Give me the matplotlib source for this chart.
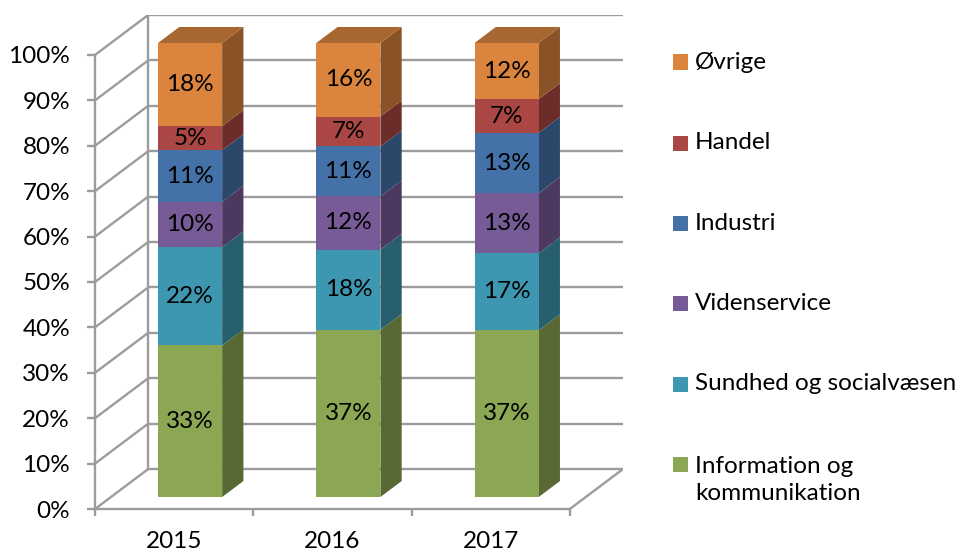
import numpy as np
import matplotlib.pyplot as plt
from matplotlib.patches import Polygon, Rectangle
from matplotlib.colors import to_rgb

plt.rcParams['font.family'] = ['Lato', 'DejaVu Sans']

# Data (100% stacked)
years = ['2015', '2016', '2017']
sektorer = ['Information og\nkommunikation', 'Sundhed og socialvæsen', 'Videnservice',
            'Industri', 'Handel', 'Øvrige']
info = [33.4, 36.8, 36.7]
sundhed = [21.6, 17.7, 17.0]
viden = [10.0, 11.7, 13.2]
industri = [11.4, 11.0, 13.3]
handel = [5.3, 6.6, 7.4]
ovrige = [18.3, 16.2, 12.4]
serier = [info, sundhed, viden, industri, handel, ovrige]

farver = ['#8BA753', '#3E97B0', '#775B96', '#4472A8', '#AA4643', '#DA843E']

# 3D look parameters (depth in category units / percent units)
DX = 0.336
DY = 8.8
d0, d1 = 0.3, 0.7
bredde = 0.405
grid_col = '#9C9C9C'
fs = 17.5

fig = plt.figure(figsize=(9.6, 5.52), dpi=100)
ax = fig.add_axes([95 / 960, 43 / 552, 528 / 960, 494 / 552])
ax.set_xlim(0, 3 + DX)
ax.set_ylim(0, 100 + DY)
ax.patch.set_visible(False)


def shade(c, f):
    r, g, b = to_rgb(c)
    return (r * f, g * f, b * f)


# back wall gridlines + diagonal lines on left wall
for v in range(0, 101, 10):
    ax.plot([DX, 3 + DX], [v + DY, v + DY], color=grid_col, lw=1.7, zorder=1,
            solid_capstyle='butt')
    ax.plot([0, DX], [v, v + DY], color=grid_col, lw=1.7, zorder=1)
ax.plot([DX, DX], [DY, 100 + DY], color=grid_col, lw=1.7, zorder=1)
ax.plot([3, 3 + DX], [0, DY], color=grid_col, lw=1.7, zorder=1)

# stacked 3D bars
for i, aar in enumerate(years):
    xc = i + 0.5
    bund = 0.0
    for s, vals in enumerate(serier):
        v = vals[i]
        top = bund + v
        x0 = xc - bredde / 2 + d0 * DX
        x1 = xc + bredde / 2 + d0 * DX
        y0 = bund + d0 * DY
        y1 = top + d0 * DY
        ex, ey = (d1 - d0) * DX, (d1 - d0) * DY
        side = Polygon([(x1, y0), (x1 + ex, y0 + ey), (x1 + ex, y1 + ey), (x1, y1)],
                       closed=True, facecolor=shade(farver[s], 0.63), edgecolor='none',
                       zorder=3)
        ax.add_patch(side)
        if s == len(serier) - 1:
            tag = Polygon([(x0, y1), (x0 + ex, y1 + ey), (x1 + ex, y1 + ey), (x1, y1)],
                          closed=True, facecolor=shade(farver[s], 0.77), edgecolor='none',
                          zorder=3)
            ax.add_patch(tag)
        ax.add_patch(Rectangle((x0, y0), x1 - x0, v, facecolor=farver[s],
                               edgecolor='none', zorder=4))
        ax.text((x0 + x1) / 2, (y0 + y1) / 2, f'{v:.0f}%', ha='center', va='center',
                fontsize=fs, color='black', zorder=5)
        bund = top

# front axes
for side in ['top', 'right']:
    ax.spines[side].set_visible(False)
ax.spines['left'].set_bounds(0, 100)
ax.spines['bottom'].set_bounds(0, 3)
for side in ['left', 'bottom']:
    ax.spines[side].set_color(grid_col)
    ax.spines[side].set_linewidth(1.7)
ax.set_yticks(range(0, 101, 10))
ax.set_yticklabels([f'{v}%' for v in range(0, 101, 10)], fontsize=fs)
ax.tick_params(axis='y', length=6, width=1.7, color=grid_col, pad=12)
ax.set_xticks([0, 1, 2, 3])
ax.set_xticklabels([])
ax.tick_params(axis='x', which='major', length=5, width=1.7, color=grid_col)
ax.set_xticks([0.5, 1.5, 2.5], minor=True)
ax.set_xticklabels(years, minor=True, fontsize=fs)
ax.tick_params(axis='x', which='minor', length=0, pad=16)

# legend (top entry = last series)
leg_y = [62, 143, 223, 303, 384, 480]
for k, s in enumerate(reversed(range(len(serier)))):
    yc = leg_y[k]
    sq_y = 464 if '\n' in sektorer[s] else yc
    fig.patches.append(Rectangle((673 / 960, 1 - (sq_y + 7.5) / 552), 15 / 960, 15 / 552,
                                 transform=fig.transFigure, facecolor=farver[s],
                                 edgecolor='none'))
    fig.text(695 / 960, 1 - yc / 552, sektorer[s], fontsize=fs, ha='left',
             va='center', linespacing=1.4)

fig.savefig('out.png', dpi=100)
